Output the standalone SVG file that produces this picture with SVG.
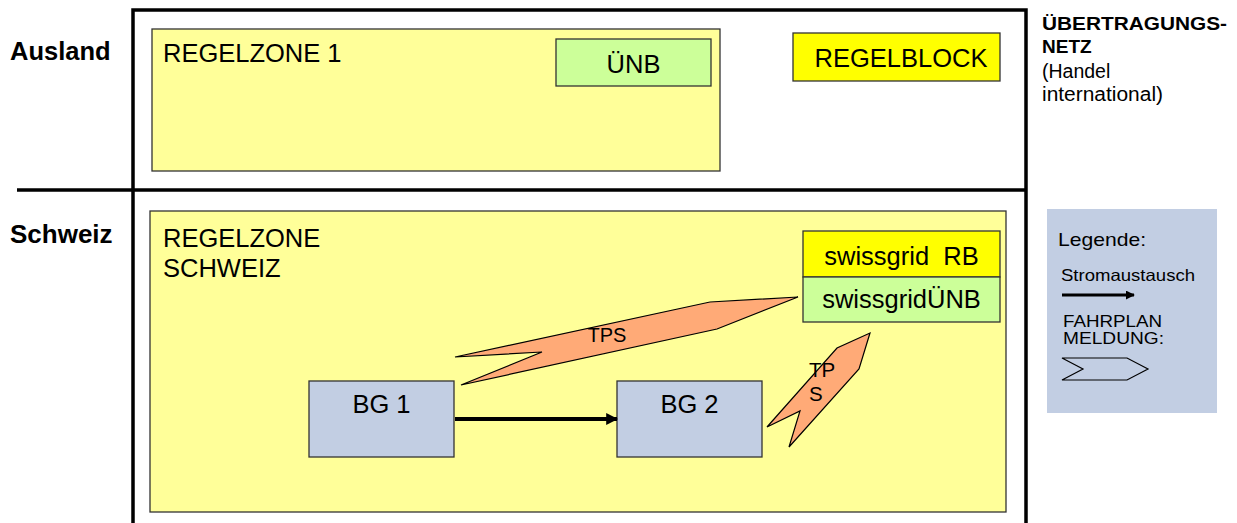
<svg xmlns="http://www.w3.org/2000/svg" width="1237" height="523" viewBox="0 0 1237 523">
<defs>
<style>
text{font-family:"Liberation Sans",Arial,sans-serif;fill:#000}
.b{font-weight:bold}
.frame{stroke:#000;stroke-width:3.5;fill:none}
.zone{fill:#ffff99;stroke:#333;stroke-width:1.3}
.unb{fill:#ccff99;stroke:#333;stroke-width:1.3}
.rb{fill:#ffff00;stroke:#333;stroke-width:1.3}
.bg{fill:#c2cee3;stroke:#333;stroke-width:1.3}
.tps{fill:#ffaa77;stroke:#000;stroke-width:1.2;stroke-linejoin:miter}
</style>
<marker id="ah" viewBox="0 0 10 10" refX="9" refY="5" markerWidth="3" markerHeight="3" orient="auto" markerUnits="strokeWidth">
<path d="M0,0 L10,5 L0,10 z" fill="#000"/>
</marker>
</defs>
<rect width="1237" height="523" fill="#fff"/>
<g id="frame">
<path class="frame" d="M133,523 V10 H1026 V523 M17,190 H1027"/>
</g>
<g id="labels-left">
<text class="b" x="10" y="60" font-size="25.5">Ausland</text>
<text class="b" x="10" y="243" font-size="26">Schweiz</text>
</g>
<g id="regelzone1">
<rect class="zone" x="152" y="29" width="568" height="142"/>
<text x="163" y="62" font-size="25.5">REGELZONE 1</text>
</g>
<g id="unb">
<rect class="unb" x="556" y="39" width="155" height="47"/>
<text x="633.5" y="73" font-size="25.5" text-anchor="middle">ÜNB</text>
</g>
<g id="regelblock">
<rect class="rb" x="793" y="33" width="207" height="48"/>
<text x="901" y="67" font-size="25.5" text-anchor="middle">REGELBLOCK</text>
</g>
<g id="uebertragungsnetz">
<text class="b" x="1042" y="30" font-size="19" textLength="185" lengthAdjust="spacingAndGlyphs">ÜBERTRAGUNGS-</text>
<text class="b" x="1042" y="53" font-size="19">NETZ</text>
<text x="1042" y="78" font-size="19.5">(Handel</text>
<text x="1042" y="101" font-size="19.5" textLength="121" lengthAdjust="spacingAndGlyphs">international)</text>
</g>
<g id="regelzone-schweiz">
<rect class="zone" x="150" y="211" width="856" height="301"/>
<text x="163" y="247" font-size="25.5">REGELZONE</text>
<text x="163" y="277" font-size="25.5">SCHWEIZ</text>
</g>
<g id="swissgrid-rb">
<rect class="rb" x="803" y="231" width="197" height="46"/>
<text x="901.5" y="265" font-size="25.5" text-anchor="middle" xml:space="preserve">swissgrid  RB</text>
</g>
<g id="swissgrid-unb">
<rect class="unb" x="803" y="277" width="197" height="45"/>
<text x="901.5" y="308" font-size="25.5" text-anchor="middle">swissgridÜNB</text>
</g>
<g id="bg1">
<rect class="bg" x="309" y="381" width="145" height="76"/>
<text x="381.5" y="413" font-size="25.5" text-anchor="middle">BG 1</text>
</g>
<g id="bg2">
<rect class="bg" x="617" y="381" width="145" height="76"/>
<text x="689.5" y="413" font-size="25.5" text-anchor="middle">BG 2</text>
</g>
<g id="connectors">
<line x1="455" y1="419" x2="617" y2="419" stroke="#000" stroke-width="4" marker-end="url(#ah)"/>
<g id="tps1">
<polygon class="tps" points="455,357 542,352 461,385 717,329 798,297 710,302"/>
<text x="607" y="342" font-size="20" text-anchor="middle">TPS</text>
</g>
<g id="tps2">
<polygon class="tps" points="767,427 800,411 789,447 859,369 870,333 837,348"/>
<text x="809" y="377" font-size="20.5">TP</text>
<text x="809" y="401" font-size="20.5">S</text>
</g>
</g>
<g id="legend">
<rect x="1047" y="209" width="170" height="204" fill="#c2cee3"/>
<text x="1058" y="246" font-size="18.5" textLength="88" lengthAdjust="spacingAndGlyphs">Legende:</text>
<text x="1061" y="281" font-size="16.5" textLength="134" lengthAdjust="spacingAndGlyphs">Stromaustausch</text>
<line x1="1062" y1="295" x2="1134" y2="295" stroke="#000" stroke-width="3" marker-end="url(#ah)"/>
<text x="1063" y="327" font-size="16.5" textLength="99" lengthAdjust="spacingAndGlyphs">FAHRPLAN</text>
<text x="1063" y="344" font-size="16.5" textLength="101" lengthAdjust="spacingAndGlyphs">MELDUNG:</text>
<polygon points="1062,358 1127,358 1148,369 1127,380 1062,380 1083,369" fill="none" stroke="#000" stroke-width="1.2"/>
</g>
</svg>
